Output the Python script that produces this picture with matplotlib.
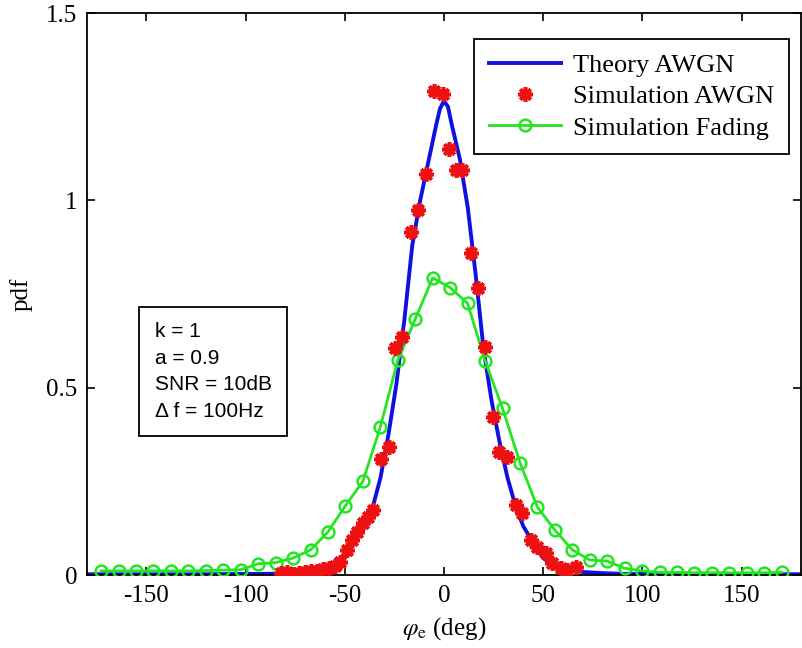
import matplotlib
matplotlib.use('Agg')
import matplotlib.pyplot as plt

plt.rcParams['font.family'] = ['Liberation Serif', 'DejaVu Serif']
plt.rcParams['mathtext.fontset'] = 'stix'
plt.rcParams['axes.unicode_minus'] = False

# theory curve (AWGN)
theory_x = [-180, -150, -120, -100, -90, -80, -70, -60, -55, -50, -45, -40, -36, -32, -28, -24, -20, -16, -12, -8, -4,
            -2, 0, 2, 4, 8, 12, 16, 20, 24, 28, 32, 36, 40, 45, 50, 55, 60, 70, 80, 90, 100, 120, 150, 180]
theory_y = [0.002, 0.002, 0.002, 0.003, 0.003, 0.004, 0.007, 0.014, 0.024, 0.052, 0.09, 0.135, 0.18, 0.26, 0.375, 0.51,
            0.68, 0.88, 1.0, 1.1, 1.2, 1.245, 1.265, 1.25, 1.2, 1.11, 0.98, 0.80, 0.60, 0.465, 0.355, 0.26, 0.185,
            0.13, 0.085, 0.045, 0.027, 0.017, 0.008, 0.005, 0.003, 0.003, 0.002, 0.002, 0.002]

# simulation AWGN
sim_x = [-82, -79, -76, -73, -70, -67, -64, -61, -58, -55, -52.5, -49, -46.6, -44, -41, -38.4, -36, -31.6, -27.9,
         -24.9, -21, -16.8, -13.3, -9.3, -4.8, -0.7, 2.3, 5.8, 9.3, 13.8, 17.3, 20.9, 24.5, 27.9, 31.9, 36.4, 39.4,
         43.9, 47, 51.5, 54.5, 59, 62, 66.5]
sim_y = [0.006, 0.008, 0.004, 0.006, 0.007, 0.010, 0.012, 0.016, 0.019, 0.024, 0.035, 0.067, 0.093, 0.115, 0.138,
         0.155, 0.173, 0.309, 0.341, 0.605, 0.635, 0.915, 0.973, 1.07, 1.293, 1.285, 1.136, 1.08, 1.08, 0.859, 0.765,
         0.608, 0.421, 0.328, 0.315, 0.187, 0.165, 0.093, 0.075, 0.059, 0.032, 0.019, 0.013, 0.021]

# simulation fading
fad_x = [-172.9, -164.1, -155.3, -146.5, -137.7, -128.9, -120.1, -111.3, -102.5, -93.7, -84.9, -76.1, -67.3, -58.5,
         -49.7, -40.9, -32.1, -23.3, -14.5, -5.7, 3.1, 11.9, 20.7, 29.5, 38.3, 47.1, 55.9, 64.7, 73.5, 82.3, 91.1,
         99.9, 108.7, 117.5, 126.3, 135.1, 143.9, 152.7, 161.5, 170.3]
fad_y = [0.011, 0.011, 0.011, 0.011, 0.011, 0.011, 0.012, 0.013, 0.014, 0.03, 0.033, 0.045, 0.067, 0.115, 0.185,
         0.25, 0.395, 0.573, 0.683, 0.793, 0.767, 0.725, 0.572, 0.445, 0.30, 0.181, 0.12, 0.067, 0.04, 0.037, 0.018,
         0.011, 0.007, 0.007, 0.006, 0.006, 0.006, 0.006, 0.006, 0.007]

fig = plt.figure(figsize=(8.02, 6.48), dpi=100)
ax = fig.add_axes([87 / 802, 73 / 648, 714 / 802, 562 / 648])

ax.plot(theory_x, theory_y, color='#1010e0', lw=2.8, label='Theory AWGN', zorder=2)
ax.plot(sim_x, sim_y, ls='none', marker=(8, 2, 0), ms=10.5, mew=2.6, color='#ee1111',
        label='Simulation AWGN', zorder=4)
ax.plot(fad_x, fad_y, color='#22e622', lw=2, marker='o', ms=8.5, mfc='none', mew=1.8,
        label='Simulation Fading', zorder=3)

ax.set_xlim(-180, 180)
ax.set_ylim(0, 1.5)
ax.set_xticks([-150, -100, -50, 0, 50, 100, 150])
ax.set_yticks([0, 0.5, 1, 1.5])
ax.set_yticklabels(['0', '0.5', '1', '1.5'])
ax.tick_params(direction='in', length=6, width=1.2, top=True, right=True, labelsize=18, pad=7)
for s in ax.spines.values():
    s.set_linewidth(1.3)

ax.set_xlabel(r'$\varphi_{\rm e}$ (deg)', fontsize=18, labelpad=6)
ax.set_ylabel('pdf', fontsize=18, labelpad=10)

leg = ax.legend(loc='upper right', bbox_to_anchor=(0.983, 0.954), borderaxespad=0, fontsize=19,
                fancybox=False, edgecolor='black', framealpha=1, handlelength=2.75, handletextpad=0.45,
                labelspacing=0.3, borderpad=0.55)
leg.get_frame().set_linewidth(1.3)

ax.text(0.095, 0.4497, 'k = 1\na = 0.9\nSNR = 10dB\n\u0394 f = 100Hz', transform=ax.transAxes,
        family=['Liberation Sans', 'DejaVu Sans'], fontsize=15, va='top', ha='left', linespacing=1.5,
        bbox=dict(boxstyle='square,pad=0.75', fc='white', ec='black', lw=1.3))

fig.savefig('out.png', dpi=100)
